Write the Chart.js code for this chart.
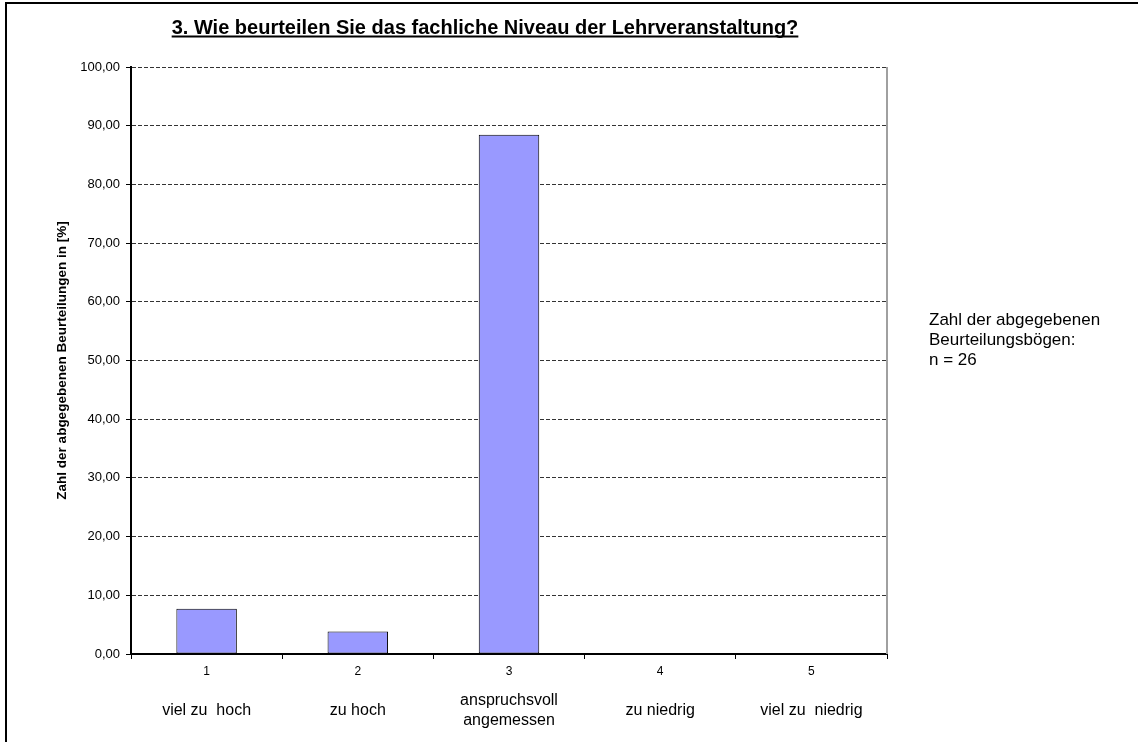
<!DOCTYPE html>
<html>
<head>
<meta charset="utf-8">
<script src="https://cdn.jsdelivr.net/npm/chart.js@4.4.1/dist/chart.umd.min.js"></script>
<style>
  html, body { margin: 0; padding: 0; background: #ffffff; }
  canvas { display: block; }
</style>
</head>
<body>
<canvas id="c" width="1138" height="742"></canvas>
<script>
// ---- data ----
const categories = ["1", "2", "3", "4", "5"];
const categoryNames = ["viel zu  hoch", "zu hoch", ["anspruchsvoll", "angemessen"], "zu niedrig", "viel zu  niedrig"];
const percentValues = [7.69, 3.85, 88.46, 0, 0];
const titleText = "3. Wie beurteilen Sie das fachliche Niveau der Lehrveranstaltung?";
const yAxisTitle = "Zahl der abgegebenen Beurteilungen in [%]";
const noteLines = ["Zahl der abgegebenen", "Beurteilungsbögen:", "n = 26"];

const FONT = "'Liberation Sans', Arial, Helvetica, sans-serif";

const decorPlugin = {
  id: 'decor',
  afterDraw(chart) {
    const ctx = chart.ctx;
    const ca = chart.chartArea;
    ctx.save();
    // outer frame (top and left edges visible)
    ctx.strokeStyle = '#000';
    ctx.lineWidth = 2;
    ctx.beginPath();
    ctx.moveTo(6, 742);
    ctx.lineTo(6, 3);
    ctx.lineTo(1138, 3);
    ctx.stroke();
    // plot area right edge
    ctx.strokeStyle = '#a0a0a0';
    ctx.lineWidth = 2;
    ctx.beginPath();
    ctx.moveTo(ca.right, ca.top);
    ctx.lineTo(ca.right, ca.bottom);
    ctx.stroke();
    // title with underline
    ctx.fillStyle = '#000';
    ctx.font = "bold 20px " + FONT;
    ctx.textAlign = 'center';
    ctx.textBaseline = 'alphabetic';
    const tx = 485, ty = 34;
    ctx.fillText(titleText, tx, ty);
    const w = ctx.measureText(titleText).width;
    ctx.fillRect(tx - w / 2, 35.5, w, 2);
    // note on the right
    ctx.font = "17px " + FONT;
    ctx.textAlign = 'left';
    ctx.textBaseline = 'middle';
    noteLines.forEach((l, i) => ctx.fillText(l, 929, 320 + i * 20));
    ctx.restore();
  }
};

new Chart(document.getElementById('c'), {
  type: 'bar',
  data: {
    labels: categories,
    datasets: [{
      data: percentValues,
      backgroundColor: '#9999FF',
      borderColor: '#000000',
      borderWidth: 1,
      borderSkipped: false,
      categoryPercentage: 1.0,
      barPercentage: 0.4
    }]
  },
  options: {
    responsive: false,
    animation: false,
    devicePixelRatio: 1,
    layout: { padding: { left: 0, right: 251, top: 67, bottom: 0 } },
    plugins: {
      legend: { display: false },
      tooltip: { enabled: false },
      title: { display: false }
    },
    scales: {
      x: {
        type: 'category',
        position: 'bottom',
        grid: {
          display: true,
          offset: true,
          drawOnChartArea: false,
          drawTicks: true,
          tickLength: 5,
          tickColor: '#000',
          tickWidth: 1
        },
        border: { display: true, color: '#000', width: 2 },
        ticks: {
          color: '#000',
          font: { family: FONT, size: 12 },
          padding: 5,
          maxRotation: 0
        },
        afterFit(scale) { scale.height = 30; }
      },
      x2: {
        type: 'category',
        position: 'bottom',
        labels: categoryNames,
        grid: { display: false, drawTicks: false, drawOnChartArea: false },
        border: { display: false },
        ticks: {
          color: '#000',
          font: { family: FONT, size: 16, lineHeight: 1.2 },
          padding: 17,
          crossAlign: 'center',
          maxRotation: 0,
          autoSkip: false
        },
        afterFit(scale) { scale.height = 58; }
      },
      y: {
        min: 0,
        max: 100,
        position: 'left',
        grid: {
          display: true,
          color: '#333',
          lineWidth: 1,
          drawTicks: true,
          tickLength: 5,
          tickColor: '#000',
          tickWidth: 1,
          tickBorderDash: []
        },
        border: { display: true, color: '#000', width: 2, dash: [4, 2] },
        ticks: {
          stepSize: 10,
          color: '#000',
          font: { family: FONT, size: 13 },
          padding: 6,
          callback: (v) => Number(v).toFixed(2).replace('.', ',')
        },
        title: {
          display: true,
          text: yAxisTitle,
          color: '#000',
          font: { family: FONT, size: 13.5, weight: 'bold', lineHeight: 1.2 },
          padding: { top: 54, bottom: 0 }
        },
        afterFit(scale) { scale.width = 131; }
      }
    }
  },
  plugins: [decorPlugin]
});
</script>
</body>
</html>
